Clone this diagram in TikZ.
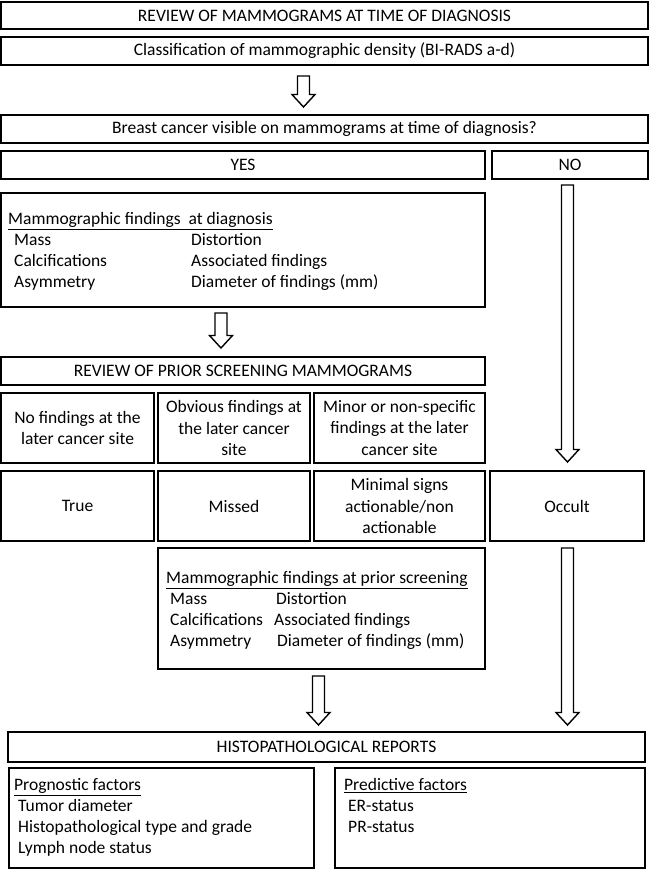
\documentclass[tikz,border=0pt]{standalone}
\usepackage{fontspec}
\setmainfont{Carlito}
\usetikzlibrary{calc}
\newcommand\fs{\fontsize{17.5}{21.5}\selectfont}
\newcommand\barrow[2]{%
  \draw[arrowline] let \p1=(#1), \p2=(#2) in
    (\x1-6pt,\y1) -- (\x1+6pt,\y1) -- (\x1+6pt,\y2+12.5pt) -- (\x1+11.5pt,\y2+12.5pt)
    -- (\x1,\y2) -- (\x1-11.5pt,\y2+12.5pt) -- (\x1-6pt,\y2+12.5pt) -- cycle;}
\begin{document}
\begin{tikzpicture}[x=1pt,y=-1pt,
  box/.style={draw, line width=1.4pt, inner sep=0pt, outer sep=0pt, align=center, font=\fs},
  txt/.style={anchor=west, inner sep=0pt, font=\fs, text height=11.5pt, text depth=0.5pt},
  arrowline/.style={draw, line width=1.4pt, fill=white, line join=miter}]
\useasboundingbox (0,0) rectangle (650,871);
\fill[white] (0,0) rectangle (650,871);

% top boxes
\node[box, minimum width=647pt, minimum height=27pt] (top) at (324.5,15.5) {REVIEW OF MAMMOGRAMS AT TIME OF DIAGNOSIS};
\node[box, minimum width=647pt, minimum height=28pt] (class) at (324.5,51) {Classification of mammographic density (BI-RADS a-d)};
\node[box, minimum width=647pt, minimum height=28pt] (quest) at (324.5,129) {Breast cancer visible on mammograms at time of diagnosis?};
\node[box, minimum width=484pt, minimum height=28pt] (yes) at (243,165) {YES};
\node[box, minimum width=156pt, minimum height=28pt] (no) at (570,165) {NO};

% findings at diagnosis
\node[box, minimum width=484pt, minimum height=114pt] (find) at (243,250) {};
\node[txt] (findt) at (8,219) {\underline{Mammographic findings\ \ at diagnosis}};
\node[txt] (f1) at (14,240) {Mass};
\node[txt] (f2) at (14,261) {Calcifications};
\node[txt] (f3) at (14,282) {Asymmetry};
\node[txt] (f4) at (191,240) {Distortion};
\node[txt] (f5) at (191,261) {Associated findings};
\node[txt] (f6) at (191,282) {Diameter of findings (mm)};

% prior screening
\node[box, minimum width=484pt, minimum height=28pt] (prior) at (243,371) {REVIEW OF PRIOR SCREENING MAMMOGRAMS};
\node[box, minimum width=153pt, minimum height=70pt] (r1a) at (77.5,428) {No findings at the\\later cancer site};
\node[box, minimum width=152pt, minimum height=70pt] (r1b) at (234,428) {Obvious findings at\\the later cancer\\site};
\node[box, minimum width=171pt, minimum height=70pt] (r1c) at (399.5,428) {Minor or non-specific\\findings at the later\\cancer site};
\node[box, minimum width=153pt, minimum height=70pt] (r2a) at (77.5,506) {True};
\node[box, minimum width=152pt, minimum height=70pt] (r2b) at (234,506) {Missed};
\node[box, minimum width=171pt, minimum height=70pt] (r2c) at (399.5,506) {Minimal signs\\actionable/non\\actionable};
\node[box, minimum width=154pt, minimum height=70pt] (occ) at (567,506) {Occult};

% findings at prior screening
\node[box, minimum width=327pt, minimum height=121pt] (pfind) at (321.5,608.5) {};
\node[txt] (pt) at (166,578) {\underline{Mammographic findings at prior screening}};
\node[txt] (p1) at (170,599) {Mass};
\node[txt] (p2) at (170,620) {Calcifications};
\node[txt] (p3) at (170,641) {Asymmetry};
\node[txt] (p4) at (276,599) {Distortion};
\node[txt] (p5) at (274,620) {Associated findings};
\node[txt] (p6) at (277,641) {Diameter of findings (mm)};

% histopathology
\node[box, minimum width=637pt, minimum height=30pt] (histo) at (326.5,747) {HISTOPATHOLOGICAL REPORTS};
\node[box, minimum width=305pt, minimum height=100pt] (prog) at (161.5,818) {};
\node[txt] (prt) at (14,785) {\underline{Prognostic factors}};
\node[txt] (pr1) at (18,806) {Tumor diameter};
\node[txt] (pr2) at (18,827) {Histopathological type and grade};
\node[txt] (pr3) at (18,848) {Lymph node status};
\node[box, minimum width=310pt, minimum height=100pt] (pred) at (490,818) {};
\node[txt] (pdt) at (344,785) {\underline{Predictive factors}};
\node[txt] (pd1) at (348,806) {ER-status};
\node[txt] (pd2) at (348,827) {PR-status};

% block arrows
\coordinate (a1s) at (303.5,76);  \coordinate (a1e) at (303.5,107);
\coordinate (a2s) at (221,313);   \coordinate (a2e) at (221,348);
\coordinate (a3s) at (318.5,676); \coordinate (a3e) at (318.5,725);
\coordinate (a4s) at (567.5,185); \coordinate (a4e) at (567.5,462);
\coordinate (a5s) at (567.5,548); \coordinate (a5e) at (567.5,725);
\barrow{a1s}{a1e}
\barrow{a2s}{a2e}
\barrow{a3s}{a3e}
\barrow{a4s}{a4e}
\barrow{a5s}{a5e}
\end{tikzpicture}
\end{document}
